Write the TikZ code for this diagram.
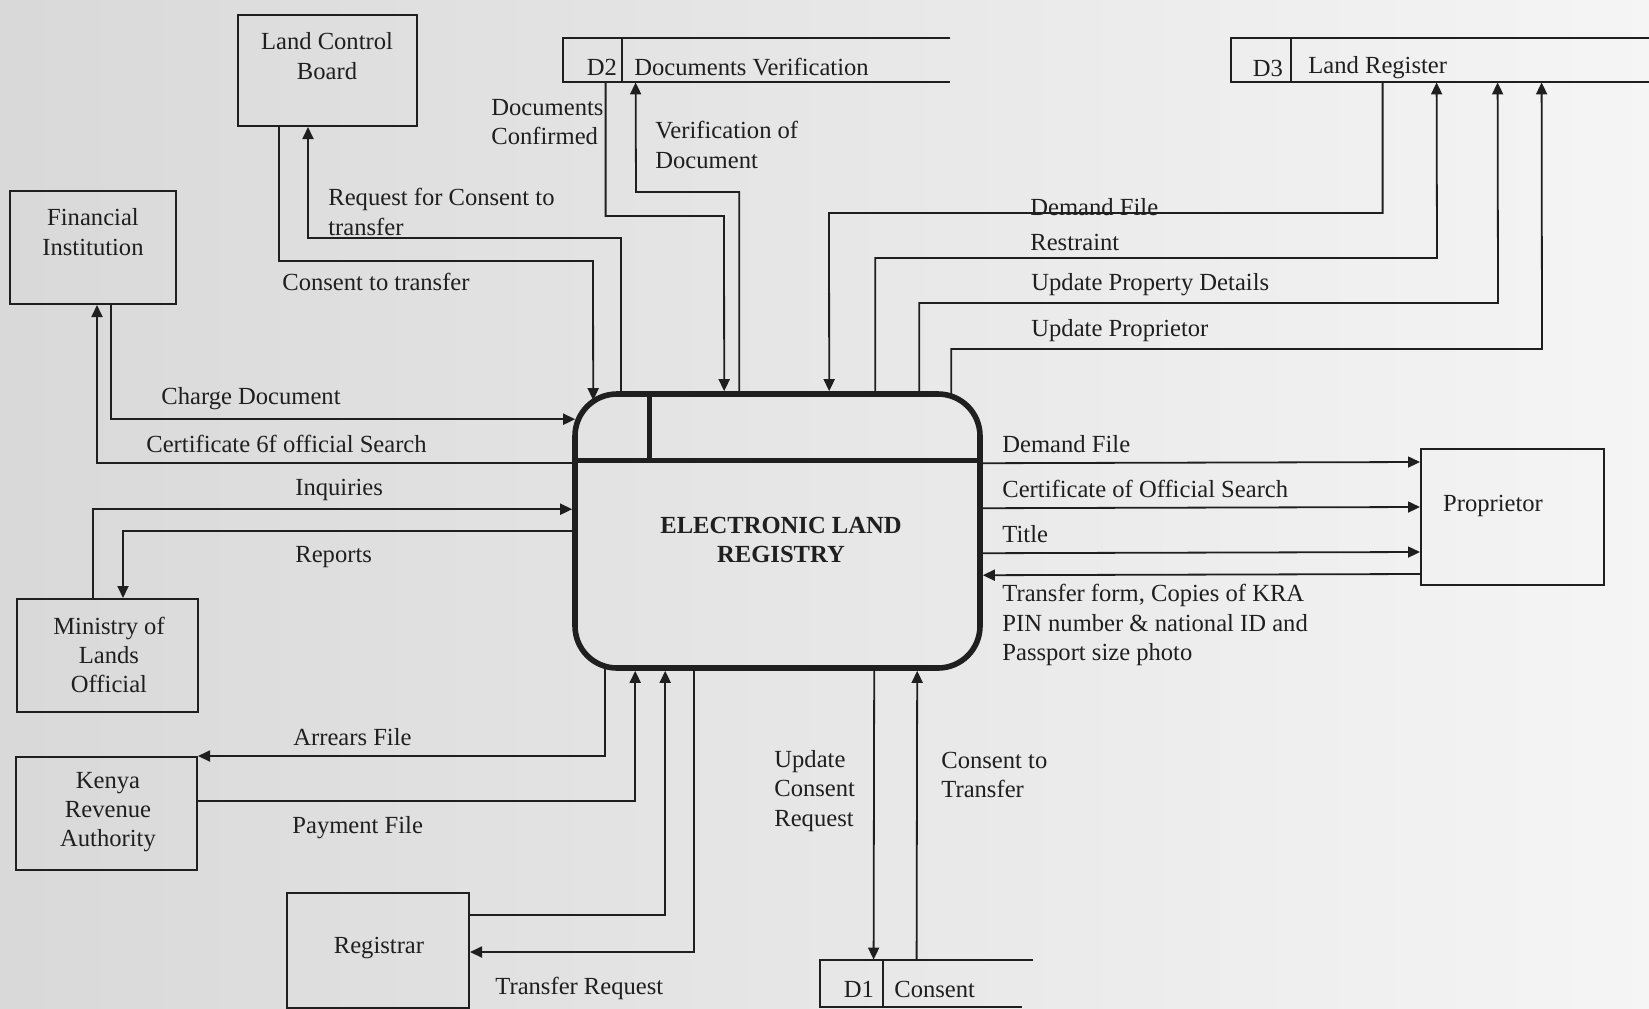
\documentclass[tikz,border=0pt]{standalone}
\usepackage{fontspec}
\setmainfont{Liberation Serif}
\usetikzlibrary{arrows.meta,calc}
\begin{document}
\begin{tikzpicture}[x=0.5pt,y=-0.5pt,
  color=black!88,
  font=\fontsize{12.3pt}{14.6pt}\selectfont,
  ent/.style={draw, line width=1pt, rectangle, inner sep=0pt},
  proc/.style={draw, line width=2.8pt, rounded corners=21pt, rectangle, inner sep=0pt},
  store/.style={rectangle, inner sep=0pt},
  storeline/.style={line width=1pt},
  flow/.style={line width=0.9pt, -{Triangle[length=6pt,width=5.5pt]}},
  lbl/.style={inner sep=0pt, align=left, anchor=west},
  ctr/.style={inner sep=0pt, align=center},
]
\useasboundingbox (0,0) rectangle (1649,1008);
\shade[left color=black!15, right color=black!4] (0,0) rectangle (1649,1008);

% ---- entities ----
\node[ent, minimum width=89.5pt, minimum height=55.5pt] (lcb) at (327.5,70.5) {};
\node[ctr] (lcbt) at (327,56) {Land Control\\Board};
\node[ent, minimum width=83pt, minimum height=56.5pt] (fi) at (93,247.5) {};
\node[ctr] (fit) at (93,232) {Financial\\Institution};
\node[ent, minimum width=90.5pt, minimum height=56.5pt] (mol) at (107.5,655.5) {};
\node[ctr] (molt) at (109,655) {Ministry of\\Lands\\Official};
\node[ent, minimum width=90.5pt, minimum height=56.5pt] (kra) at (106.5,813.5) {};
\node[ctr] (krat) at (108,812) {Kenya\\Revenue\\Authority};
\node[ent, minimum width=91pt, minimum height=57.5pt] (reg) at (378,950.5) {};
\node[ctr] (regt) at (379,948) {Registrar};
\node[ent, minimum width=91.5pt, minimum height=68pt] (prop) at (1512.5,517) {};
\node[ctr] (propt) at (1493,506) {Proprietor};

% ---- process ----
\node[proc, minimum width=202.5pt, minimum height=137pt] (elr) at (777.5,531) {};
\draw[line width=2.6pt] ($(elr.north west)+(0,69)$) -- ($(elr.north east)+(0,69)$);
\draw[line width=2.6pt] ($(elr.north west)+(77,0)$) -- ($(elr.north west)+(77,69)$);
\node[ctr, font=\fontsize{12.3pt}{14.6pt}\selectfont\bfseries] (elrt) at (781,540) {ELECTRONIC LAND\\REGISTRY};

% ---- data stores ----
\node[store, minimum width=193.5pt, minimum height=22pt] (d2) at (756.5,60) {};
\draw[storeline] (d2.north east) -- (d2.north west) -- (d2.south west) -- (d2.south east);
\draw[storeline] ($(d2.north west)+(59,0)$) -- ($(d2.south west)+(59,0)$);
\node[ctr] (d2a) at (602,67) {D2};
\node[lbl] (d2b) at (634,67) {Documents Verification};

\node[store, minimum width=209pt, minimum height=22pt] (d3) at (1440,60) {};
\draw[storeline] (d3.north east) -- (d3.north west) -- (d3.south west) -- (d3.south east);
\draw[storeline] ($(d3.north west)+(60,0)$) -- ($(d3.south west)+(60,0)$);
\node[ctr] (d3a) at (1268,68) {D3};
\node[lbl] (d3b) at (1308,68) {Land Register};

\node[store, minimum width=106.5pt, minimum height=23.5pt] (d1) at (926.5,983.5) {};
\draw[storeline] (d1.north east) -- (d1.north west) -- (d1.south west) -- ($(d1.south east)+(-11,0)$);
\draw[storeline] ($(d1.north west)+(63,0)$) -- ($(d1.south west)+(63,0)$);
\node[ctr] (d1a) at (859,989) {D1};
\node[lbl] (d1b) at (894,989) {Consent};

% ---- flows: top ----
\draw[flow] ($(lcb.south west)+(42,0)$) |- (593,261) -- ($(elr.north west)+(21,9)$);
\draw[flow] ($(elr.north west)+(49,2)$) |- (308,238) -- ($(lcb.south west)+(71,0)$);
\draw[flow] ($(d2.south west)+(43,0)$) |- (724,216) -- ($(elr.north west)+(152,0)$);
\draw[flow] ($(elr.north west)+(167,0)$) |- (636,192) -- ($(d2.south west)+(73,0)$);
\draw[flow] ($(d3.south west)+(152,0)$) |- (829,213) -- ($(elr.north west)+(257,0)$);
\draw[flow] ($(elr.north west)+(303,0)$) |- (1437,258) -- ($(d3.south west)+(206,0)$);
\draw[flow] ($(elr.north west)+(347,0)$) |- (1498,303) -- ($(d3.south west)+(267,0)$);
\draw[flow] ($(elr.north west)+(379,3)$) |- (1542,349) -- ($(d3.south west)+(311,0)$);

% ---- flows: left ----
\draw[flow] ($(fi.south west)+(102,0)$) |- ($(elr.north west)+(3,28)$);
\draw[flow] ($(elr.north west)+(0,72)$) -| ($(fi.south west)+(88,0)$);
\draw[flow] ($(mol.north west)+(77,0)$) |- ($(elr.north west)+(0,118)$);
\draw[flow] ($(elr.north west)+(0,140)$) -| ($(mol.north west)+(107,0)$);

% ---- flows: bottom ----
\draw[flow] ($(elr.south west)+(33,-3)$) |- (kra.north east);
\draw[flow] ($(kra.north east)+(0,45)$) -| ($(elr.south west)+(63,0)$);
\draw[flow] ($(reg.north east)+(0,23)$) -| ($(elr.south west)+(93,0)$);
\draw[flow] ($(elr.south west)+(122,0)$) |- ($(reg.north east)+(0,60)$);
\draw[flow] ($(elr.south west)+(302,0)$) -- ($(d1.north west)+(54,0)$);
\draw[flow] ($(d1.north west)+(97,0)$) -- ($(elr.south west)+(345,0)$);

% ---- flows: right ----
\draw[flow] ($(elr.north east)+(0,72)$) -- ($(prop.north west)+(0,14)$);
\draw[flow] ($(elr.north east)+(0,117)$) -- ($(prop.north west)+(0,59)$);
\draw[flow] ($(elr.north east)+(0,162)$) -- ($(prop.north west)+(0,104)$);
\draw[flow] ($(prop.north west)+(0,126)$) -- ($(elr.north east)+(0,184)$);

% ---- labels ----
\node[lbl] (t1) at (491,122) {Documents\\Confirmed};
\node[lbl] (t2) at (655,145) {Verification of\\Document};
\node[lbl] (t3) at (328,212) {Request for Consent to\\transfer};
\node[lbl] (t4) at (282,282) {Consent to transfer};
\node[lbl] (t5) at (1030,207) {Demand File};
\node[lbl] (t6) at (1030,242) {Restraint};
\node[lbl] (t7) at (1031,285) {Update Property Details};
\node[lbl] (t8) at (1031,331) {Update Proprietor};
\node[lbl] (t9) at (161,399) {Charge Document};
\node[lbl] (t10) at (146,444) {Certificate 6f official Search};
\node[lbl] (t11) at (295,490) {Inquiries};
\node[lbl] (t12) at (295,557) {Reports};
\node[lbl] (t13) at (293,737) {Arrears File};
\node[lbl] (t14) at (292,828) {Payment File};
\node[lbl] (t15) at (495,988) {Transfer Request};
\node[lbl] (t16) at (774,791) {Update\\Consent\\Request};
\node[lbl] (t17) at (941,775) {Consent to\\Transfer};
\node[lbl] (t18) at (1002,444) {Demand File};
\node[lbl] (t19) at (1002,489) {Certificate of Official Search};
\node[lbl] (t20) at (1002,534) {Title};
\node[lbl] (t21) at (1002,625) {Transfer form, Copies of KRA\\PIN number \& national ID and\\Passport size photo};
\end{tikzpicture}
\end{document}
